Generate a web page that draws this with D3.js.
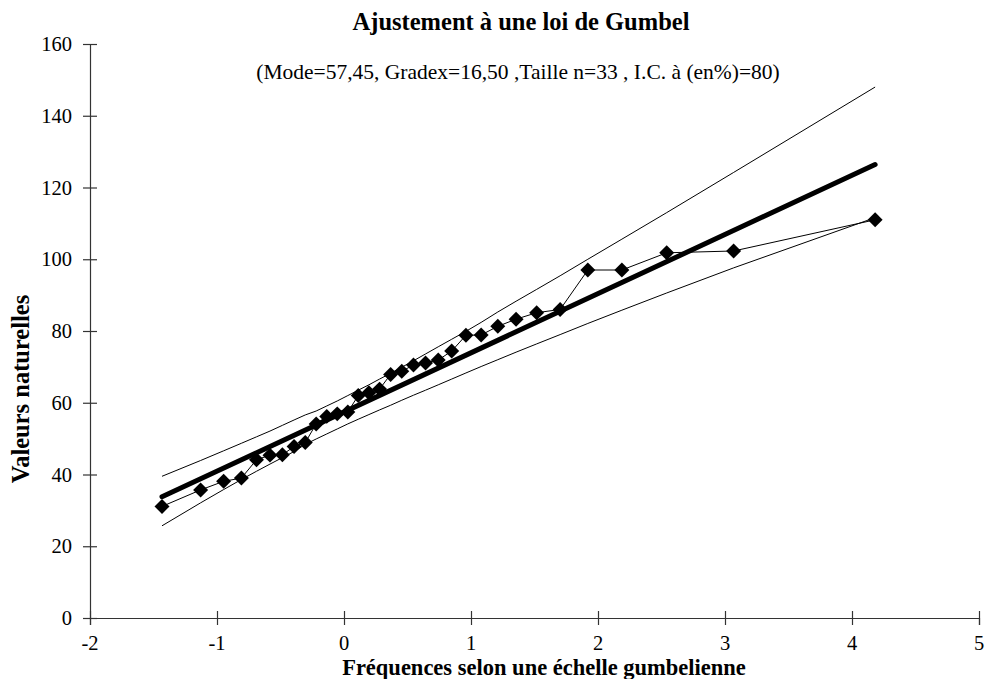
<!DOCTYPE html>
<html>
<head>
<meta charset="utf-8">
<script src="https://cdn.jsdelivr.net/npm/d3@7"></script>
<style>
  html, body { margin: 0; padding: 0; background: #fff; }
  svg { display: block; }
  text { font-family: "Liberation Serif", "Times New Roman", serif; fill: #000; }
</style>
</head>
<body>
<svg id="chart" width="985" height="679"></svg>
<script>
// Gumbel reduced variate (plotting positions) of the 33 ranked observations
const gumbelU = [-1.433, -1.129, -0.948, -0.808, -0.689, -0.583, -0.485, -0.393, -0.305, -0.219,
  -0.136, -0.053, 0.030, 0.112, 0.196, 0.280, 0.367, 0.455, 0.547, 0.642, 0.742, 0.848, 0.960,
  1.080, 1.211, 1.355, 1.517, 1.702, 1.920, 2.188, 2.541, 3.068, 4.182];
// observed values (ranked)
const observed = [31.1, 35.7, 38.1, 39.0, 44.1, 45.4, 45.5, 47.8, 48.9, 54.1, 56.2, 56.9, 57.4,
  62.0, 62.8, 63.8, 67.9, 68.8, 70.5, 71.1, 71.9, 74.4, 78.8, 78.9, 81.3, 83.3, 85.1, 86.0,
  97.0, 97.0, 101.8, 102.3, 111.0];
// 80% confidence interval bounds
const upperCI = [39.5, 43.9, 46.6, 48.7, 50.5, 52.1, 53.7, 55.2, 56.6, 57.7, 59.1, 60.5, 62.0,
  63.5, 65.0, 66.6, 68.2, 69.9, 71.7, 73.6, 75.6, 77.7, 79.9, 82.4, 85.3, 88.3, 91.6, 95.4,
  100.0, 105.6, 113.0, 124.2, 148.0];
const lowerCI = [25.7, 32.1, 35.8, 38.6, 40.9, 42.9, 44.7, 46.4, 48.4, 49.9, 51.3, 52.7, 54.1,
  55.4, 56.7, 58.0, 59.3, 60.7, 62.1, 63.5, 65.0, 66.6, 68.3, 70.1, 72.0, 74.1, 76.4, 79.0,
  82.1, 85.8, 90.6, 97.6, 111.6];
// fitted Gumbel line (end points)
const fitU = [-1.433, 4.182];
const fitV = [33.8, 126.4];
// ticks
const xTicks = [-2, -1, 0, 1, 2, 3, 4, 5];
const yTicks = [0, 20, 40, 60, 80, 100, 120, 140, 160];

const title = "Ajustement à une loi de Gumbel";
const subtitle = "(Mode=57,45, Gradex=16,50 ,Taille n=33 , I.C. à (en%)=80)";
const xTitle = "Fréquences selon une échelle gumbelienne";
const yTitle = "Valeurs naturelles";

const svg = d3.select("#chart");
const x = d3.scaleLinear().domain([-2, 5]).range([90, 979]);
const y = d3.scaleLinear().domain([0, 160]).range([618, 44]);

// axes
const yAxis = svg.append("g").attr("transform", `translate(${x(-2)},0)`)
  .call(d3.axisLeft(y).tickValues(yTicks).tickSize(7).tickPadding(0).tickFormat(d3.format("d")));
yAxis.selectAll(".tick line").attr("x1", -7).attr("x2", 7);
yAxis.selectAll(".tick text").remove();
const xAxis = svg.append("g").attr("transform", `translate(0,${y(0)})`)
  .call(d3.axisBottom(x).tickValues(xTicks).tickSize(7).tickFormat(d3.format("d")));
xAxis.selectAll(".tick line").attr("y1", -7).attr("y2", 7);
xAxis.selectAll(".tick text").remove();
svg.selectAll(".domain").attr("stroke", "#333").attr("stroke-width", 1.2);
svg.selectAll(".tick line").attr("stroke", "#333").attr("stroke-width", 1.2);

// tick labels
svg.append("g").selectAll("text").data(yTicks).join("text")
  .attr("x", 72).attr("y", d => y(d) + 7)
  .attr("text-anchor", "end").attr("font-size", 20.5)
  .text(d => d);
svg.append("g").selectAll("text").data(xTicks).join("text")
  .attr("x", d => x(d)).attr("y", 650)
  .attr("text-anchor", "middle").attr("font-size", 20.5)
  .text(d => d);

const line = d3.line().x(d => x(d[0])).y(d => y(d[1]));

// confidence interval curves
svg.append("path").datum(gumbelU.map((u, i) => [u, upperCI[i]]))
  .attr("d", line).attr("fill", "none").attr("stroke", "#000").attr("stroke-width", 1);
svg.append("path").datum(gumbelU.map((u, i) => [u, lowerCI[i]]))
  .attr("d", line).attr("fill", "none").attr("stroke", "#000").attr("stroke-width", 1);

// observed series line
svg.append("path").datum(gumbelU.map((u, i) => [u, observed[i]]))
  .attr("d", line).attr("fill", "none").attr("stroke", "#000").attr("stroke-width", 1);

// fitted line
svg.append("path").datum(fitU.map((u, i) => [u, fitV[i]]))
  .attr("d", line).attr("fill", "none").attr("stroke", "#000")
  .attr("stroke-width", 5).attr("stroke-linecap", "round");

// markers (diamonds)
const sym = d3.symbol().type(d3.symbolSquare).size(112);
svg.append("g").selectAll("path").data(gumbelU.map((u, i) => [u, observed[i]])).join("path")
  .attr("d", sym)
  .attr("transform", d => `translate(${x(d[0])},${y(d[1])}) rotate(45)`)
  .attr("fill", "#000");

// titles
svg.append("text").attr("x", 521).attr("y", 30).attr("text-anchor", "middle")
  .attr("font-size", 24.5).attr("font-weight", "bold").text(title);
svg.append("text").attr("x", 518).attr("y", 79).attr("text-anchor", "middle")
  .attr("font-size", 21.5).text(subtitle);
svg.append("text").attr("x", 544).attr("y", 674.5).attr("text-anchor", "middle")
  .attr("font-size", 22.5).attr("font-weight", "bold").text(xTitle);
svg.append("text").attr("transform", "translate(29,389) rotate(-90)").attr("text-anchor", "middle")
  .attr("font-size", 24.5).attr("font-weight", "bold").text(yTitle);
</script>
</body>
</html>
